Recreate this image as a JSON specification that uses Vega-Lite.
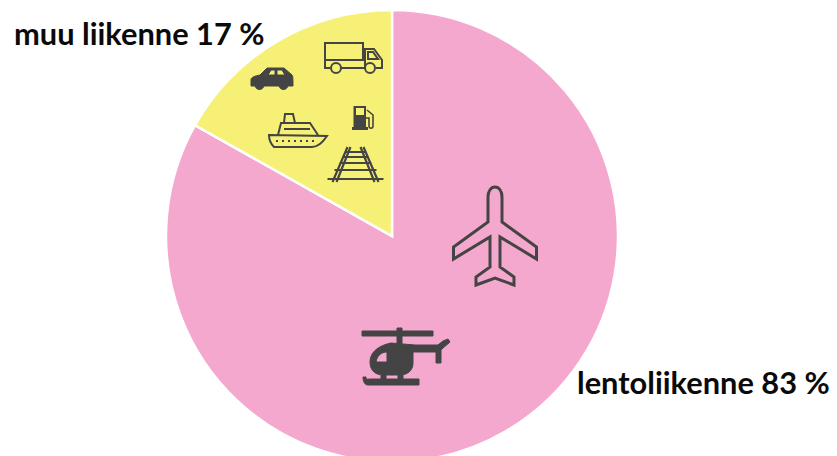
{
"$schema":"https://vega.github.io/schema/vega-lite/v6.json",
"width":837,"height":456,"padding":0,"autosize":{"type":"none"},
"background":"white",
"config":{"view":{"stroke":null}},
"encoding":{
 "x":{"field":"px","type":"quantitative","scale":{"domain":[0,837]},"axis":null},
 "y":{"field":"py","type":"quantitative","scale":{"domain":[456,0]},"axis":null}
},
"layer":[
{"data":{"values":[
 {"name":"lentoliikenne","value":83.15,"order":1,"px":392,"py":236},
 {"name":"muu liikenne","value":16.85,"order":2,"px":392,"py":236}]},
 "mark":{"type":"arc","radius":226,"stroke":"white","strokeWidth":2.5},
 "encoding":{
  "theta":{"field":"value","type":"quantitative","stack":true,"scale":{"domain":[0,100]}},
  "order":{"field":"order"},
  "color":{"field":"name","type":"nominal","legend":null,"scale":{"domain":["lentoliikenne","muu liikenne"],"range":["#f5a8ce","#f6f176"]}}
 }},
{"data":{"values":[
 {"icon":"plane","px":495,"py":236},
 {"icon":"helicopter","px":405,"py":358},
 {"icon":"truck","px":353,"py":58},
 {"icon":"car","px":272,"py":79},
 {"icon":"pump","px":363,"py":118},
 {"icon":"hose","px":363,"py":118},
 {"icon":"ship","px":298,"py":130},
 {"icon":"rail","px":355.5,"py":165}]},
 "mark":{"type":"point","size":4,"opacity":1,"filled":false},
 "encoding":{
  "shape":{"field":"icon","type":"nominal","legend":null,"scale":{
   "domain":["plane","helicopter","truck","car","pump","hose","ship","rail"],
   "range":[
    "M0,-49 C4,-49 7,-45 7,-39 L7,-14 L41.5,11 L41.5,23 L5,1 L5,31 L19,41 L19,49 L0,42 L-19,49 L-19,41 L-5,31 L-5,1 L-41.5,23 L-41.5,11 L-7,-14 L-7,-39 C-7,-45 -4,-49 0,-49 Z",
    "M-43,-27 L28,-27 L28,-22 L-43,-22 Z M-8,-30 L-3,-30 L-3,-12 L-8,-12 Z M-14,-15 L10,-13 L33,-13 L38,-17 L43,-19 L45,-16 L38,-10 L36,-8 L36,5 L31,5 L31,-6 L8,-6 L8,5 C8,12 3,17 -5,17 L-22,17 C-30,17 -35,12 -35,4 C-35,-5 -28,-12 -14,-15 Z M-29,4 L-18,4 L-18,-6 C-24,-6 -28,-2 -29,4 Z M-24,17 L-19,17 L-19,22 L-24,22 Z M-7,17 L-2,17 L-2,22 L-7,22 Z M-42,19 L-39,19 C-39,22 -37,21 -35,21 L14,21 L14,27 L-37,27 C-40,27 -42,24 -42,19 Z",
    "M-23,10 L-28,10 L-28,-15 L10,-15 L10,3 M-28,2 L10,2 M-12,10 L11,10 M11,10 L12,10 L12,-9 L21,-9 L29,2 L29,10 L23,10 M15,-6 L20,-6 L25,1 L15,1 Z M-12,10 a5,5 0 1 1 -10,0 a5,5 0 1 1 10,0 Z M22,10 a5,5 0 1 1 -10,0 a5,5 0 1 1 10,0 Z",
    "M-21,1 C-21,-2 -17,-3 -12,-4 L-5,-11 L12,-11 L20,-4 C21,-3 21,0 21,7 L-21,7 Z M-4,-4 L3,-4 L3,-9 L-1,-9 Z M5,-4 L13,-4 L10,-9 L5,-9 Z M-8,6 a4.5,4.5 0 1 1 -9,0 a4.5,4.5 0 1 1 9,0 Z M16,6 a4.5,4.5 0 1 1 -9,0 a4.5,4.5 0 1 1 9,0 Z",
    "M-9.5,-12 L3,-12 L3,9 L5,9 L5,12 L-11,12 L-11,9 L-9.5,9 Z M-7,-3 L1,-3 L1,-10 L-7,-10 Z",
    "M4,-8 L10,-3 L10,8 C10,11 6,11 6,8 L6,0 L3,0",
    "M-29,5 L29,6 C25,12 20,17 14,17 L-24,17 C-27,14 -29,10 -29,5 Z M-20,5 L-17,-7 L12,-7 L20,5 M-14,-7 L-13,-16 L-5,-16 L-3,-7 M-14,-1 L12,-1 M-22,11 L-20,11 M-16,11 L-14,11 M-10,11 L-8,11 M-4,11 L-2,11 M2,11 L4,11 M8,11 L10,11 M14,11 L16,11",
    "M-19,17 L-5,-18 M19,17 L5,-18 M-23,17 L-8,-18 M23,17 L8,-18 M-10,-13 L10,-13 M-13,-8 L13,-8 M-16,-2 L16,-2 M-21,5 L21,5 M-28,14 L28,14"
   ]}},
  "fill":{"field":"icon","type":"nominal","legend":null,"scale":{
   "domain":["plane","helicopter","truck","car","pump","hose","ship","rail"],
   "range":["transparent","#444444","transparent","#444444","#444444","transparent","transparent","transparent"]}},
  "stroke":{"field":"icon","type":"nominal","legend":null,"scale":{
   "domain":["plane","helicopter","truck","car","pump","hose","ship","rail"],
   "range":["#444444","#444444","#444444","#444444","transparent","#444444","#444444","#444444"]}},
  "strokeWidth":{"field":"icon","type":"nominal","legend":null,"scale":{"type":"ordinal",
   "domain":["plane","helicopter","truck","car","pump","hose","ship","rail"],
   "range":[3,1,2,1,0.01,1.6,2,2.2]}}
 }},
{"data":{"values":[
 {"label":"muu liikenne 17 %","px":14,"py":45},
 {"label":"lentoliikenne 83 %","px":577,"py":394}]},
 "mark":{"type":"text","align":"left","baseline":"alphabetic","font":"Lato","fontWeight":"bold","fontSize":30.8,"color":"#0a0a0a"},
 "encoding":{"text":{"field":"label","type":"nominal"}}}
]
}
